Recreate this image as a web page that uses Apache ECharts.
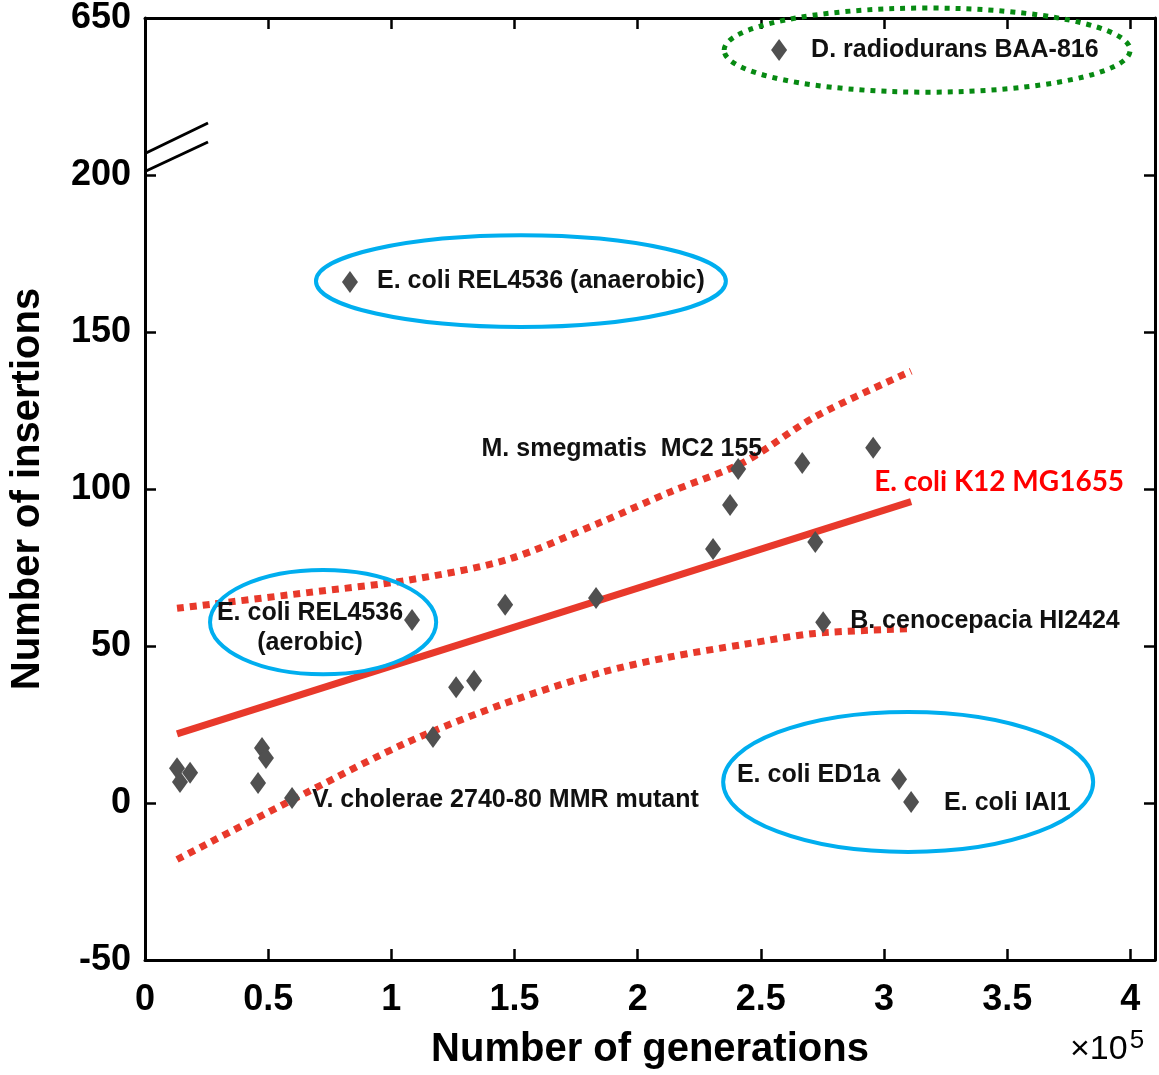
<!DOCTYPE html>
<html>
<head>
<meta charset="utf-8">
<script src="https://cdn.jsdelivr.net/npm/echarts@6/dist/echarts.min.js"></script>
<style>html,body{margin:0;background:#fff}#main{width:1159px;height:1075px}</style>
</head>
<body>
<div id="main"></div>
<script>
// number of generations (x 10^5) and number of insertions per strain
var generations = [0.13, 0.142, 0.183, 0.459, 0.475, 0.491, 0.597, 1.084, 1.169, 1.263, 1.336, 1.462,
  1.831, 2.306, 2.375, 2.408, 2.668, 2.721, 2.753, 2.956, 3.061, 3.11, 0.832, 2.574];
var insertions = [11.1, 6.7, 9.6, 6.4, 17.5, 14.3, 1.6, 58.3, 21, 36.9, 38.9, 63.1,
  65.3, 80.9, 94.9, 106.4, 108.3, 83.1, 57.6, 113.1, 7.6, 0.3, 165.9, 558];
var strainNames = ['', '', '', '', '', '', 'V. cholerae 2740-80 MMR mutant', 'E. coli REL4536\n(aerobic)', '', '', '', '',
  '', '', '', 'M. smegmatis  MC2 155', '', '', 'B. cenocepacia HI2424', '', 'E. coli ED1a', 'E. coli IAI1',
  'E. coli REL4536 (anaerobic)', 'D. radiodurans BAA-816'];

// regression line for E. coli K12 MG1655 and its confidence band
var fitX = [0.13, 3.11];
var fitY = [22, 96];
var bandX = [0.13, 0.66, 1.07, 1.47, 1.85, 2.13, 2.43, 2.72, 3.11];
var bandUpper = [62, 67, 71, 77.5, 89.4, 99, 108.5, 123, 137.5];
var bandLower = [-18, 3.5, 19.5, 32, 41.5, 46.5, 50.5, 54, 55.5];

// highlighted groups: [centre x, centre y, half width, half height]
var blueEllipses = [[1.526, 166.2, 0.832, 14.6], [0.723, 57.6, 0.459, 16.6], [3.098, 6.7, 0.751, 22.3]];
var greenEllipses = [[3.175, 558, 0.824, 13.4]];

var xTicks = [0, 0.5, 1, 1.5, 2, 2.5, 3, 3.5, 4];
var yTicks = [-50, 0, 50, 100, 150, 200, 250];
var yTickLabels = ['-50', '0', '50', '100', '150', '200', '650'];

// axis is broken above 200: 200..650 squeezed into 200..250
function brk(v) {
  return v > 200 ? 200 + (v - 200) / 9 : v;
}

var chart = echarts.init(document.getElementById('main'));
var font = "'Liberation Sans', Arial, Helvetica, sans-serif";

// where each strain name sits relative to its point (pixels)
var placement = {
  'V. cholerae 2740-80 MMR mutant': { dx: 20, dy: 2, align: 'left' },
  'E. coli REL4536\n(aerobic)': { dx: -102, dy: 8, align: 'center' },
  'M. smegmatis  MC2 155': { dx: 24, dy: -20, align: 'right' },
  'B. cenocepacia HI2424': { dx: 27, dy: -1, align: 'left' },
  'E. coli ED1a': { dx: -19, dy: -4, align: 'right' },
  'E. coli IAI1': { dx: 33, dy: 1, align: 'left' },
  'E. coli REL4536 (anaerobic)': { dx: 27, dy: -1, align: 'left' },
  'D. radiodurans BAA-816': { dx: 32, dy: 0, align: 'left' }
};

var points = generations.map(function (g, i) { return [g, brk(insertions[i])]; });
var labelled = [];
strainNames.forEach(function (n, i) {
  if (n) labelled.push({ value: points[i], name: n });
});

function pairs(xs, ys) {
  return xs.map(function (x, i) { return [x, ys[i]]; });
}

function ellipseSeries(list, color, dash) {
  return {
    type: 'custom',
    coordinateSystem: 'cartesian2d',
    clip: false,
    z: 4,
    data: list.map(function (e) { return [e[0], brk(e[1]), e[2], e[3]]; }),
    renderItem: function (params, api) {
      var c = api.coord([api.value(0), api.value(1)]);
      var s = api.size([api.value(2), api.value(3)]);
      return {
        type: 'ellipse',
        shape: { cx: c[0], cy: c[1], rx: s[0], ry: s[1] },
        style: { fill: 'none', stroke: color, lineWidth: dash ? 5 : 4, lineDash: dash || null }
      };
    }
  };
}

var axisLineStyle = { color: '#000', width: 3 };
var tickStyle = { show: true, inside: true, length: 11, lineStyle: { color: '#000', width: 2.5 } };

var option = {
  animation: false,
  backgroundColor: '#fff',
  grid: { left: 145, right: 4, top: 18, bottom: 115 },
  xAxis: [{
    type: 'value', min: 0, max: 4.1,
    name: 'Number of generations', nameLocation: 'middle', nameGap: 70,
    nameTextStyle: { fontSize: 40, fontWeight: 'bold', color: '#000', fontFamily: font },
    axisLine: { onZero: false, lineStyle: axisLineStyle },
    axisTick: Object.assign({ customValues: xTicks }, tickStyle),
    axisLabel: { customValues: xTicks, margin: 22, fontSize: 36, fontWeight: 'bold', color: '#000', fontFamily: font },
    splitLine: { show: false }
  }, {
    type: 'value', min: 0, max: 4.1, position: 'top',
    axisLine: { onZero: false, lineStyle: axisLineStyle },
    axisTick: Object.assign({ customValues: xTicks }, tickStyle),
    axisLabel: { show: false }, splitLine: { show: false }
  }],
  yAxis: [{
    type: 'value', min: -50, max: 250,
    name: 'Number of insertions', nameLocation: 'middle', nameGap: 97,
    nameTextStyle: { fontSize: 40, fontWeight: 'bold', color: '#000', fontFamily: font },
    axisLine: { show: true, onZero: false, lineStyle: axisLineStyle },
    axisTick: Object.assign({ customValues: yTicks }, tickStyle),
    axisLabel: {
      customValues: yTicks, margin: 14, fontSize: 36, fontWeight: 'bold', color: '#000', fontFamily: font,
      formatter: function (v) { return yTickLabels[yTicks.indexOf(v)]; }
    },
    splitLine: { show: false }
  }, {
    type: 'value', min: -50, max: 250, position: 'right',
    axisLine: { show: true, onZero: false, lineStyle: axisLineStyle },
    axisTick: Object.assign({ customValues: yTicks }, tickStyle),
    axisLabel: { show: false }, splitLine: { show: false }
  }],
  series: [{
    type: 'line', data: pairs(bandX, bandUpper), smooth: 0.3, symbol: 'none', z: 2,
    lineStyle: { color: '#E8392B', width: 7, type: [7, 6], cap: 'butt' }
  }, {
    type: 'line', data: pairs(bandX, bandLower), smooth: 0.3, symbol: 'none', z: 2,
    lineStyle: { color: '#E8392B', width: 7, type: [7, 6], cap: 'butt' }
  }, {
    type: 'line', data: pairs(fitX, fitY), symbol: 'none', z: 2,
    lineStyle: { color: '#E8392B', width: 7 }
  }, {
    type: 'custom', coordinateSystem: 'cartesian2d', clip: false, z: 6,
    data: [[fitX[1], fitY[1]]],
    renderItem: function (params, api) {
      var c = api.coord([api.value(0), api.value(1)]);
      return {
        type: 'text',
        style: {
          x: c[0] + 88, y: c[1] - 20, text: 'E. coli K12 MG1655', fill: '#FF0000',
          font: 'bold 28px Lato, "Open Sans", sans-serif', align: 'center', verticalAlign: 'middle'
        }
      };
    }
  }, {
    type: 'scatter', data: points, symbol: 'diamond', symbolSize: [16, 22], z: 5,
    itemStyle: { color: '#505050', opacity: 1 }
  }, {
    // strain names next to their points
    type: 'custom', coordinateSystem: 'cartesian2d', clip: false, z: 7,
    data: labelled,
    renderItem: function (params, api) {
      var c = api.coord([api.value(0), api.value(1)]);
      var name = labelled[params.dataIndex].name;
      var p = placement[name];
      return {
        type: 'text',
        style: {
          x: c[0] + p.dx, y: c[1] + p.dy, text: name, fill: '#111',
          font: 'bold 25px ' + font, align: p.align, verticalAlign: 'middle', lineHeight: 30
        }
      };
    }
  },
  ellipseSeries(blueEllipses, '#00AEEF', null),
  ellipseSeries(greenEllipses, '#078A12', [5, 6])]
};

chart.setOption(option);

// break marks on the y axis just above 200, and the x scale factor
var p = chart.convertToPixel({ gridIndex: 0 }, [0, 200]);
chart.setOption({
  graphic: [{
    type: 'text', left: 1070, top: 1028,
    style: {
      text: '×10{s|5}', fill: '#000', font: '34px ' + font,
      rich: { s: { fontSize: 26, fontFamily: font, verticalAlign: 'top', padding: [0, 0, 18, 2] } }
    }
  }, {
    type: 'line', shape: { x1: p[0] + 1, y1: p[1] - 4, x2: p[0] + 63, y2: p[1] - 33 },
    style: { stroke: '#000', lineWidth: 3 }
  }, {
    type: 'line', shape: { x1: p[0] + 1, y1: p[1] - 22, x2: p[0] + 63, y2: p[1] - 52 },
    style: { stroke: '#000', lineWidth: 3 }
  }]
});
</script>
</body>
</html>
